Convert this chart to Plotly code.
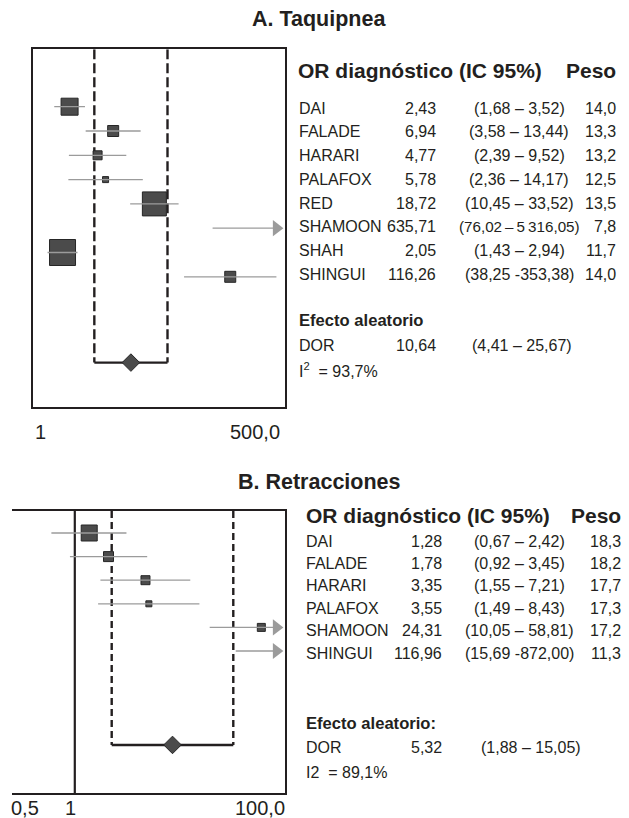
import math
import plotly.graph_objects as go

# ---------------- data ----------------
# Panel A
title_a = "A. Taquipnea"
studies_a = ["DAI", "FALADE", "HARARI", "PALAFOX", "RED", "SHAMOON", "SHAH", "SHINGUI"]
or_a = [2.43, 6.94, 4.77, 5.78, 18.72, 635.71, 2.05, 116.26]
lo_a = [1.68, 3.58, 2.39, 2.36, 10.45, 76.02, 1.43, 38.25]
hi_a = [3.52, 13.44, 9.52, 14.17, 33.52, 5316.05, 2.94, 353.38]
ci_text_a = ["(1,68 – 3,52)", "(3,58 – 13,44)", "(2,39 – 9,52)", "(2,36 – 14,17)",
             "(10,45 – 33,52)", "(76,02\u2009–\u20095\u2009316,05)", "(1,43 – 2,94)",
             "(38,25 -353,38)"]
peso_a = [14.0, 13.3, 13.2, 12.5, 13.5, 7.8, 11.7, 14.0]
dor_a = [10.64, 4.41, 25.67]          # estimate, lower, upper
dor_ci_text_a = "(4,41 – 25,67)"
effect_label_a = "Efecto aleatorio"
i2_text_a = "I<sup>2</sup>  = 93,7%"
ticks_a = ["1", "500,0"]

# Panel B
title_b = "B. Retracciones"
studies_b = ["DAI", "FALADE", "HARARI", "PALAFOX", "SHAMOON", "SHINGUI"]
or_b = [1.28, 1.78, 3.35, 3.55, 24.31, 116.96]
lo_b = [0.67, 0.92, 1.55, 1.49, 10.05, 15.69]
hi_b = [2.42, 3.45, 7.21, 8.43, 58.81, 872.00]
ci_text_b = ["(0,67 – 2,42)", "(0,92 – 3,45)", "(1,55 – 7,21)", "(1,49 – 8,43)",
             "(10,05 – 58,81)", "(15,69 -872,00)"]
peso_b = [18.3, 18.2, 17.7, 17.3, 17.2, 11.3]
dor_b = [5.32, 1.88, 15.05]
dor_ci_text_b = "(1,88 – 15,05)"
effect_label_b = "Efecto aleatorio:"
i2_text_b = "I2  = 89,1%"
ticks_b = ["0,5", "1", "100,0"]

header_left = "OR diagnóstico (IC 95%)"
header_right = "Peso"

# ---------------- styling ----------------
W, H = 629, 818
FONT = "Liberation Sans, Arial, Helvetica, sans-serif"
INK = "#231f20"
GRAY = "#9b9b9b"
BOXFILL = "#4b4b4b"
BOXLINE = "#262626"
box_px_a = [17, 11, 9, 6, 24, 0, 26, 11]
box_px_b = [16, 10, 9, 6, 8, 0]
ci_font_a = [16, 16, 16, 16, 16, 15.2, 16, 16]
ci_font_b = [16, 16, 16, 16, 16, 16]


def fmt(v, d=2):
    return f"{v:.{d}f}".replace(".", ",")


def px_x(p):
    return p / W


def px_y(p):
    return 1 - p / H


fig = go.Figure()


def add_panel(ax, studies, ors, los, his, sizes, dor, x_px, y_px, xrange_log,
              row0_px, step_px, diamond_row, dash, null_line=False):
    xa = "x" if ax == 1 else f"x{ax}"
    ya = "y" if ax == 1 else f"y{ax}"
    y_top = (y_px[0] - row0_px) / step_px
    y_bot = (y_px[1] - row0_px) / step_px
    xmax = 10 ** xrange_log[1]
    ppd = (x_px[1] - x_px[0]) / (xrange_log[1] - xrange_log[0])  # px per decade
    arrow_x = 10 ** (xrange_log[1] - 8.6 / ppd)
    arrow_base = 10 ** (xrange_log[1] - 12.0 / ppd)

    rows = list(range(len(studies)))
    if null_line:
        fig.add_trace(go.Scatter(x=[1, 1], y=[y_top, y_bot], mode="lines",
                                 line=dict(color=INK, width=2.2), xaxis=xa, yaxis=ya,
                                 hoverinfo="skip", cliponaxis=False))
    for v in (dor[1], dor[2]):
        fig.add_trace(go.Scatter(x=[v, v], y=[y_top, diamond_row], mode="lines",
                                 line=dict(color=INK, width=2.4, dash=dash),
                                 xaxis=xa, yaxis=ya, hoverinfo="skip"))
    fig.add_trace(go.Scatter(x=[dor[1], dor[2]], y=[diamond_row, diamond_row], mode="lines",
                             line=dict(color=INK, width=2.4), xaxis=xa, yaxis=ya,
                             hoverinfo="skip"))
    sx, sy, ss = [], [], []
    for i, r in enumerate(rows):
        if ors[i] <= xmax and sizes[i] > 0:
            sx.append(ors[i]); sy.append(r); ss.append(sizes[i])
    fig.add_trace(go.Scatter(x=sx, y=sy, mode="markers",
                             marker=dict(symbol="square", size=ss, color=BOXFILL, opacity=1,
                                         line=dict(color=BOXLINE, width=1)),
                             xaxis=xa, yaxis=ya, hoverinfo="skip"))
    lx, ly = [], []
    ax_x, ax_y = [], []
    for i, r in enumerate(rows):
        hi = his[i]
        if hi > xmax:
            hi = arrow_base
            ax_x.append(arrow_x); ax_y.append(r)
        lx += [los[i], hi, None]
        ly += [r, r, None]
    fig.add_trace(go.Scatter(x=lx, y=ly, mode="lines", line=dict(color=GRAY, width=1.3),
                             xaxis=xa, yaxis=ya, hoverinfo="skip"))
    fig.add_trace(go.Scatter(x=ax_x, y=ax_y, mode="markers",
                             marker=dict(symbol="triangle-right", size=14, color=GRAY, opacity=1,
                                         line=dict(width=0)),
                             xaxis=xa, yaxis=ya, hoverinfo="skip", cliponaxis=False))
    fig.add_trace(go.Scatter(x=[dor[0]], y=[diamond_row], mode="markers",
                             marker=dict(symbol="diamond", size=13.5, color=BOXFILL, opacity=1,
                                         line=dict(color=BOXLINE, width=1)),
                             xaxis=xa, yaxis=ya, hoverinfo="skip"))
    return y_top, y_bot


A_X = (32.7, 285.0)
A_Y = (49.3, 406.7)
A_RANGE = [0.0, 2.638]
yt_a, yb_a = add_panel(1, studies_a, or_a, lo_a, hi_a, box_px_a, dor_a, A_X, A_Y, A_RANGE,
                       106.7, 24.3, 10.53, "10px,4px")
B_X = (12.0, 285.0)
B_Y = (511.0, 793.0)
B_RANGE = [-0.4666, 1.5617]
yt_b, yb_b = add_panel(2, studies_b, or_b, lo_b, hi_b, box_px_b, dor_b, B_X, B_Y, B_RANGE,
                       533.0, 23.6, 8.98, "7px,4px", null_line=True)

axis_common = dict(showgrid=False, zeroline=False, showticklabels=False, ticks="",
                   linecolor=INK, linewidth=2)
fig.update_layout(
    xaxis=dict(domain=[px_x(A_X[0]), px_x(A_X[1])], type="log", range=A_RANGE,
               showline=True, mirror=True, anchor="y", **axis_common),
    yaxis=dict(domain=[px_y(A_Y[1]), px_y(A_Y[0])], range=[yb_a, yt_a],
               showline=True, mirror=True, anchor="x", **axis_common),
    xaxis2=dict(domain=[px_x(B_X[0]), px_x(B_X[1])], type="log", range=B_RANGE,
                showline=True, mirror=True, anchor="y2", **axis_common),
    yaxis2=dict(domain=[px_y(B_Y[1]), px_y(B_Y[0])], range=[yb_b, yt_b],
                showline=True, mirror=False, side="right", anchor="x2", **axis_common),
)

ann = []


def text(x, y, s, size=16, anchor="left", bold=False, xref="paper", yref="paper", xshift=0):
    ann.append(dict(x=x if xref != "paper" else px_x(x), y=px_y(y) if yref == "paper" else y,
                    xref=xref, yref=yref, text=f"<b>{s}</b>" if bold else s,
                    showarrow=False, xanchor=anchor, yanchor="middle", xshift=xshift,
                    font=dict(family=FONT, size=size, color=INK)))


text(319, 19, title_a, size=21.5, anchor="center", bold=True)
text(319.5, 482, title_b, size=21.5, anchor="center", bold=True)


def table(studies, ors, ci_texts, ci_fonts, pesos, dor, dor_ci, effect_label, i2, name_x,
          val_x, ci_x, peso_x, header_x, header_y, row0, step, eff_y, dor_ci_x):
    text(header_x, header_y, header_left, size=21, bold=True)
    text(peso_x, header_y, header_right, size=21, bold=True, anchor="right")
    for i, s in enumerate(studies):
        y = row0 + step * i
        text(name_x, y, s)
        text(val_x, y, fmt(ors[i]), anchor="right")
        text(ci_x, y, ci_texts[i], anchor="center", size=ci_fonts[i])
        text(peso_x, y, fmt(pesos[i], 1), anchor="right")
    text(name_x, eff_y, effect_label, size=16.6, bold=True)
    text(name_x, eff_y + 24.5, "DOR")
    text(val_x, eff_y + 24.5, fmt(dor[0]), anchor="right")
    text(dor_ci_x, eff_y + 24.5, dor_ci, anchor="center")
    text(name_x, eff_y + 49, i2)


table(studies_a, or_a, ci_text_a, ci_font_a, peso_a, dor_a, dor_ci_text_a, effect_label_a,
      i2_text_a, 297, 438, 519, 618, 296, 70, 108, 23.8, 321, 521.5)
table(studies_b, or_b, ci_text_b, ci_font_b, peso_b, dor_b, dor_ci_text_b, effect_label_b,
      i2_text_b, 304, 444, 519, 623, 304, 515, 541, 22.4, 723, 531)

text(0, 432, ticks_a[0], size=20, anchor="left", xref="x domain")
text(1, 432, ticks_a[1], size=20, anchor="right", xref="x domain", xshift=-3)
text(0, 808, ticks_b[0], size=20, anchor="left", xref="x2 domain", xshift=-3)
text(0, 808, ticks_b[1], size=20, anchor="center", xref="x2", xshift=-4)
text(1, 808, ticks_b[2], size=20, anchor="right", xref="x2 domain", xshift=2)

fig.update_layout(annotations=ann, width=W, height=H, autosize=False,
                  margin=dict(l=0, r=0, t=0, b=0), showlegend=False,
                  paper_bgcolor="white", plot_bgcolor="white",
                  font=dict(family=FONT, color=INK))

fig.write_html("out.html", config={"displayModeBar": False},
               post_script="document.body.style.margin='0';")
